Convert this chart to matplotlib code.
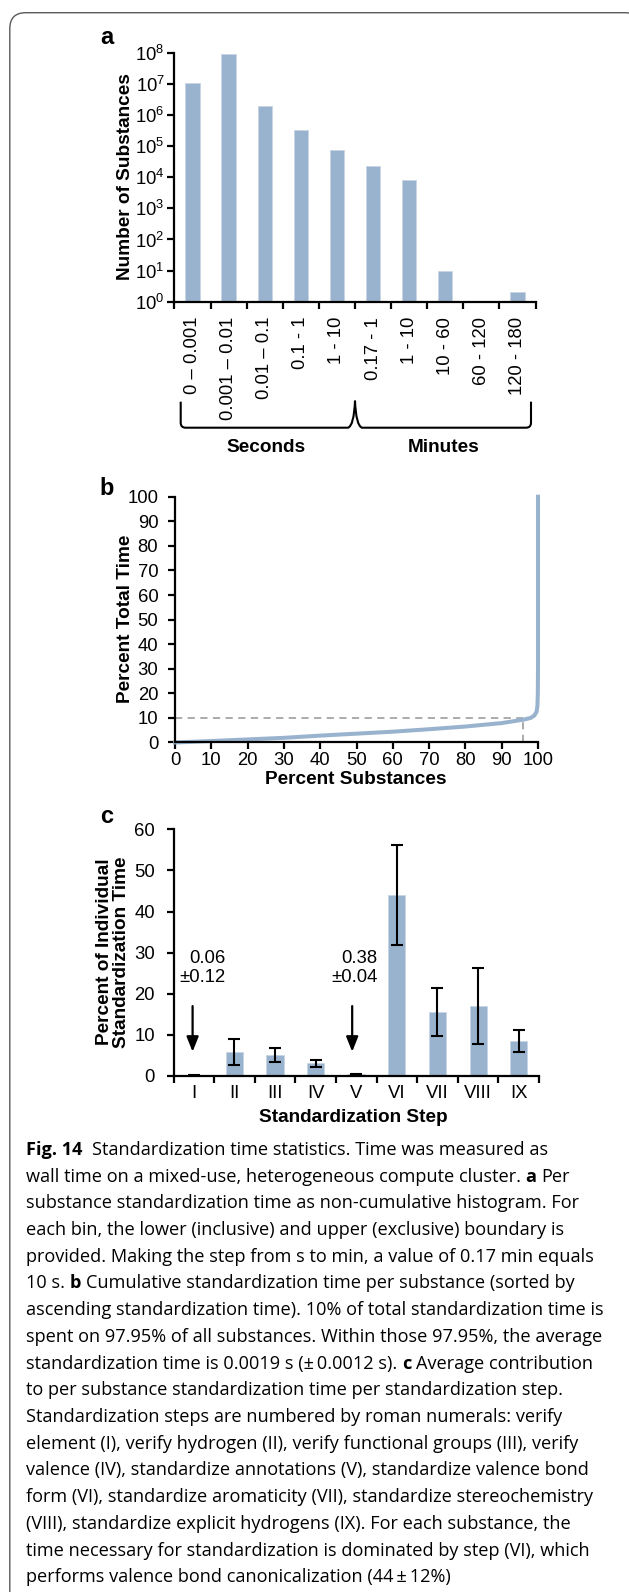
import matplotlib
matplotlib.use('Agg')
import numpy as np
import matplotlib.pyplot as plt
from matplotlib.transforms import Affine2D
from matplotlib.patches import FancyBboxPatch, PathPatch
from matplotlib.path import Path
from matplotlib.ticker import NullLocator

plt.rcParams['font.family'] = ['Liberation Sans', 'DejaVu Sans']
plt.rcParams['mathtext.default'] = 'regular'

# ---- data ----
# a: per substance standardization time histogram
bins = ['0 – 0.001', '0.001 – 0.01', '0.01 – 0.1', '0.1 - 1', '1 - 10',
        '0.17 - 1', '1 - 10', '10 - 60', '60 - 120', '120 - 180']
counts = [1.1e7, 9.0e7, 1.95e6, 3.4e5, 7.5e4, 2.3e4, 8.3e3, 10, 0, 2]

# b: cumulative time vs. sorted substances
pct_subst = [0, 10, 20, 30, 40, 50, 60, 70, 80, 90, 96, 98, 99, 99.6, 99.85, 99.95, 100, 100]
pct_time = [0, 0.6, 1.25, 1.9, 2.8, 3.6, 4.4, 5.4, 6.5, 7.9, 9.3, 10.0, 11.0, 12.5, 15, 20, 30, 100]
cut_x, cut_y = 96, 10

# c: contribution per standardization step
steps = ['I', 'II', 'III', 'IV', 'V', 'VI', 'VII', 'VIII', 'IX']
step_mean = [0.06, 5.8, 5.1, 3.1, 0.38, 44.1, 15.5, 17.1, 8.6]
step_err = [0.12, 3.2, 1.6, 0.9, 0.04, 12.2, 5.8, 9.2, 2.7]

caption = [
    [("Fig. 14", "bold"), ("  Standardization time statistics. Time was measured as", "normal")],
    [("wall time on a mixed-use, heterogeneous compute cluster. ", "normal"), ("a", "bold"), (" Per", "normal")],
    [("substance standardization time as non-cumulative histogram. For", "normal")],
    [("each bin, the lower (inclusive) and upper (exclusive) boundary is", "normal")],
    [("provided. Making the step from s to min, a value of 0.17 min equals", "normal")],
    [("10 s. ", "normal"), ("b", "bold"), (" Cumulative standardization time per substance (sorted by", "normal")],
    [("ascending standardization time). 10% of total standardization time is", "normal")],
    [("spent on 97.95% of all substances. Within those 97.95%, the average", "normal")],
    [("standardization time is 0.0019 s (±\u20090.0012 s). ", "normal"), ("c", "bold"), (" Average contribution", "normal")],
    [("to per substance standardization time per standardization step.", "normal")],
    [("Standardization steps are numbered by roman numerals: verify", "normal")],
    [("element (I), verify hydrogen (II), verify functional groups (III), verify", "normal")],
    [("valence (IV), standardize annotations (V), standardize valence bond", "normal")],
    [("form (VI), standardize aromaticity (VII), standardize stereochemistry", "normal")],
    [("(VIII), standardize explicit hydrogens (IX). For each substance, the", "normal")],
    [("time necessary for standardization is dominated by step (VI), which", "normal")],
    [("performs valence bond canonicalization (44\u2009±\u200912%)", "normal")],
]

# ---- figure in pixel units ----
W, H, DPI = 629, 1592, 100
fig = plt.figure(figsize=(W / DPI, H / DPI), dpi=DPI)
pix = Affine2D().scale(1 / W, -1 / H).translate(0, 1) + fig.transFigure

def box(l, t, r, b):
    return [l / W, 1 - b / H, (r - l) / W, (b - t) / H]

blue = '#99B3CF'
edge = '#C8D5E5'
TICK = 13.3
LAB = 13.7

def style(ax, ypad):
    for s in ['top', 'right']:
        ax.spines[s].set_visible(False)
    for s in ['left', 'bottom']:
        ax.spines[s].set_linewidth(1.6)
    ax.tick_params(which='major', direction='out', length=5, width=1.6, labelsize=TICK)
    ax.tick_params(axis='y', pad=ypad)

# frame round the figure
frame = FancyBboxPatch((9.8, 12.7), 641 - 9.8, H + 40, boxstyle='round,pad=0,rounding_size=16',
                       transform=pix, fill=False, ec='#5a5a5a', lw=1.0)
fig.patches.append(frame)

# panel a
ax1 = fig.add_axes(box(174.5, 52.7, 535.5, 301.7))
x1 = np.arange(len(bins))
ax1.bar(x1, counts, width=0.4, color=blue, edgecolor=edge, linewidth=0.6)
ax1.set_yscale('log')
ax1.set_ylim(1, 1e8)
ax1.set_xlim(-0.5, len(bins) - 0.5)
ax1.set_yticks([10.0 ** k for k in range(9)])
ax1.set_yticklabels([r'$10^{%d}$' % k for k in range(9)])
ax1.yaxis.set_minor_locator(NullLocator())
style(ax1, 2)
ax1.set_xticks(np.arange(-0.5, len(bins), 1))
ax1.set_xticklabels([])
ax1.set_xticks(x1, minor=True)
ax1.set_xticklabels(bins, minor=True, rotation=90, va='top', ha='center', fontsize=TICK)
ax1.tick_params(axis='x', which='minor', length=0, pad=11)

# brace under the bins
L, M, R, T, B, r = 180.7, 355.0, 531.0, 401.7, 427.7, 5
verts = [(L, T), (L, B - r), (L, B), (L + r, B), (M - 7, B), (M - 1, B - 2), (M, T - 1),
         (M + 1, B - 2), (M + 7, B), (R - r, B), (R, B), (R, B - r), (R, T)]
codes = [Path.MOVETO, Path.LINETO, Path.CURVE3, Path.CURVE3, Path.LINETO, Path.CURVE3, Path.CURVE3,
         Path.CURVE3, Path.CURVE3, Path.LINETO, Path.CURVE3, Path.CURVE3, Path.LINETO]
fig.patches.append(PathPatch(Path(verts, codes), transform=pix, fill=False, ec='k', lw=1.5))
fig.text(266, 447, 'Seconds', transform=pix, ha='center', va='center', fontsize=LAB, fontweight='bold')
fig.text(444, 447, 'Minutes', transform=pix, ha='center', va='center', fontsize=LAB, fontweight='bold')
fig.text(126, 177, 'Number of Substances', transform=pix, rotation=90, ha='center', va='center',
         fontsize=LAB, fontweight='bold')
fig.text(107, 44, 'a', transform=pix, ha='center', va='baseline', fontsize=17, fontweight='bold')

# panel b
ax2 = fig.add_axes(box(175, 496.7, 538, 742.5))
ax2.plot([0, cut_x], [cut_y, cut_y], ls=(0, (4, 3)), color='#A5A5A5', lw=1.3)
ax2.plot([cut_x, cut_x], [0, cut_y], ls=(0, (4, 3)), color='#A5A5A5', lw=1.3)
ax2.plot(pct_subst, pct_time, color=blue, lw=2.9, clip_on=False, solid_joinstyle='round')
ax2.set_xlim(0, 100)
ax2.set_ylim(0, 100)
ax2.set_xticks(range(0, 101, 10))
ax2.set_yticks(range(0, 101, 10))
style(ax2, 7)
ax2.tick_params(axis='x', pad=1.5)
fig.text(356, 779, 'Percent Substances', transform=pix, ha='center', va='center',
         fontsize=LAB, fontweight='bold')
fig.text(126, 619, 'Percent Total Time', transform=pix, rotation=90, ha='center', va='center',
         fontsize=LAB, fontweight='bold')
fig.text(107, 495, 'b', transform=pix, ha='center', va='baseline', fontsize=17, fontweight='bold')

# panel c
ax3 = fig.add_axes(box(173.5, 829.3, 539, 1076))
x3 = np.arange(len(steps))
ax3.bar(x3, step_mean, width=0.42, color=blue, edgecolor=edge, linewidth=0.6)
ax3.errorbar(x3, step_mean, yerr=step_err, fmt='none', ecolor='k', elinewidth=1.5,
             capsize=4, capthick=1.5)
ax3.set_xlim(-0.5, len(steps) - 0.5)
ax3.set_ylim(0, 60)
ax3.set_yticks(range(0, 61, 10))
style(ax3, 8.5)
ax3.set_xticks(np.arange(-0.5, len(steps), 1))
ax3.set_xticklabels([])
ax3.set_xticks(x3, minor=True)
ax3.set_xticklabels(steps, minor=True, fontsize=TICK)
ax3.tick_params(axis='x', which='minor', length=0, pad=6.5)
for i, xo in [(0, -0.03), (4, -0.1)]:
    ax3.annotate('', xy=(i + xo, 5.9), xytext=(i + xo, 17.0),
                 arrowprops=dict(arrowstyle='-|>,head_length=0.45,head_width=0.18', color='k',
                                 lw=1.6, mutation_scale=20, shrinkA=0, shrinkB=0))
    ax3.text(i + 0.77 - (0.25 if i == 4 else 0), 26.3,
             '%.2f\n±%.2f' % (step_mean[i], step_err[i]),
             ha='right', va='center', fontsize=13.3, linespacing=1.2)
fig.text(353, 1117, 'Standardization Step', transform=pix, ha='center', va='center',
         fontsize=LAB, fontweight='bold')
fig.text(113, 952, 'Percent of Individual\nStandardization Time', transform=pix, rotation=90,
         ha='center', va='center', fontsize=LAB, fontweight='bold', linespacing=1.0)
fig.text(107, 823, 'c', transform=pix, ha='center', va='baseline', fontsize=17, fontweight='bold')

# caption
renderer = fig.canvas.get_renderer()
cap_font = ['Open Sans', 'DejaVu Sans']

def width(s, size, weight):
    t = fig.text(0, 0, s, fontsize=size, fontweight=weight, family=cap_font)
    w = t.get_window_extent(renderer).width
    t.remove()
    return w

probe = ''.join(s for s, _ in caption[6])
cap_size = 12 * 577 / width(probe, 12, 'normal')
space_w = width('x x', cap_size, 'normal') - width('xx', cap_size, 'normal')

for i, line in enumerate(caption):
    y = 1155 + 26.7 * i
    x = 26
    for s, wt in line:
        lead = len(s) - len(s.lstrip(' '))
        trail = len(s) - len(s.rstrip(' '))
        x += lead * space_w
        core = s.strip(' ')
        t = fig.text(x, y, core, transform=pix, ha='left', va='baseline', fontsize=cap_size,
                     fontweight=wt, family=cap_font)
        x += t.get_window_extent(renderer).width + trail * space_w

fig.savefig('out.png', dpi=DPI)
